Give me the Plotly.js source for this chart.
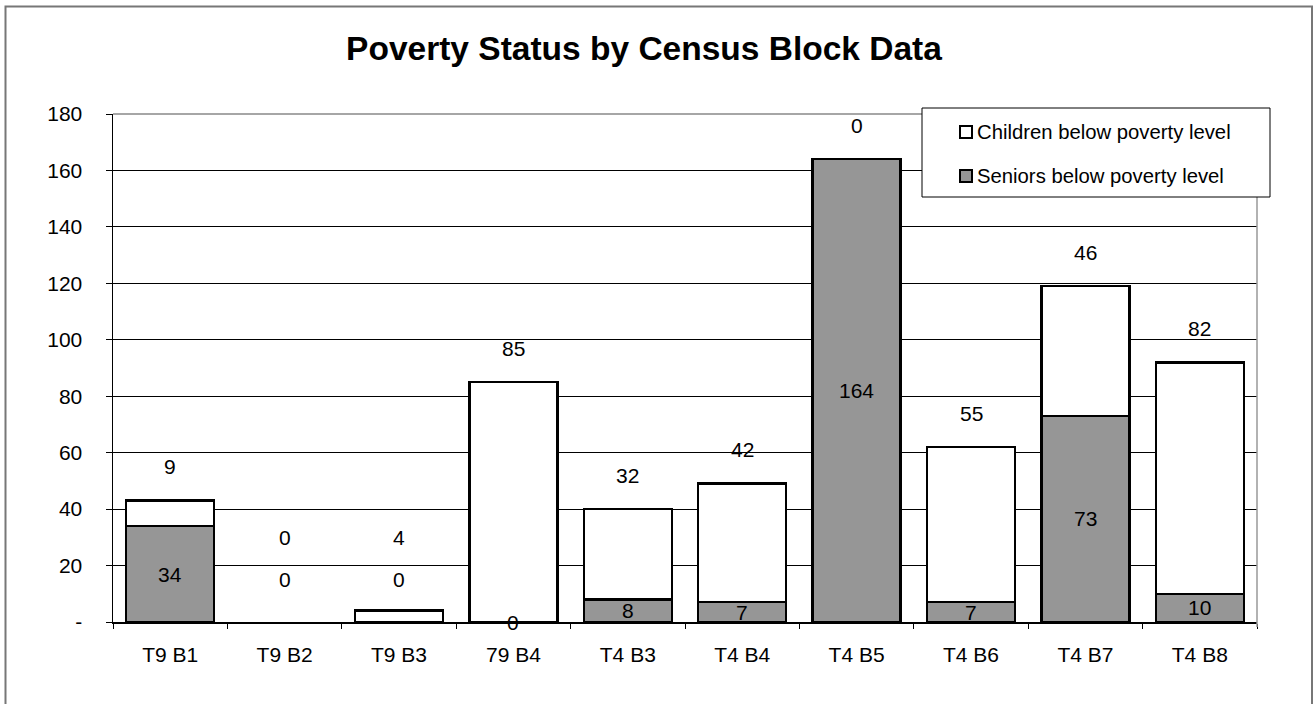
<!DOCTYPE html>
<html>
<head>
<meta charset="utf-8">
<script src="https://cdn.plot.ly/plotly-3.0.1.min.js"></script>
<style>html,body{margin:0;padding:0;background:#fff;}#chart{width:1313px;height:704px;}</style>
</head>
<body>
<div id="chart"></div>
<script>
// ---- data ----
const categories = ["T9 B1","T9 B2","T9 B3","79 B4","T4 B3","T4 B4","T4 B5","T4 B6","T4 B7","T4 B8"];
const seniors = [34, 0, 0, 0, 8, 7, 164, 7, 73, 10];
const children = [9, 0, 4, 85, 32, 42, 0, 55, 46, 82];
const seriesNames = ["Children below poverty level", "Seniors below poverty level"];
const yTickVals = [0,20,40,60,80,100,120,140,160,180];
const yTickText = ["-","20","40","60","80","100","120","140","160","180"];

// ---- layout geometry (pixels) ----
const W = 1313, H = 704;
const M = {l:113, r:56, t:114, b:82};
const PW = W - M.l - M.r, PH = H - M.t - M.b;
const px = x => (x - M.l) / PW;
const py = y => (H - M.b - y) / PH;
const FONT = "Liberation Sans, Arial, sans-serif";
const FS = 21;
const GRAY = "rgb(150,150,150)";
const noZero = arr => arr.map(v => v === 0 ? null : v);

const traces = [
  {type:"bar", name:seriesNames[1], x:categories, y:noZero(seniors),
   marker:{color:GRAY, line:{color:"#000", width:2.5}}, showlegend:false, hoverinfo:"x+y"},
  {type:"bar", name:seriesNames[0], x:categories, y:noZero(children),
   marker:{color:"#fff", line:{color:"#000", width:2.5}}, showlegend:false, hoverinfo:"x+y"}
];

const annotations = [];
categories.forEach((c, i) => {
  const total = seniors[i] + children[i];
  const cy = Math.max(total + 12, 30);
  const sy = total < 10 ? 15 : seniors[i] / 2;
  annotations.push({x:c, y:cy, xref:"x", yref:"y", text:String(children[i]), showarrow:false,
    font:{family:FONT, size:FS, color:"#000"}, xanchor:"center", yanchor:"middle"});
  annotations.push({x:c, y:sy, xref:"x", yref:"y", text:String(seniors[i]), showarrow:false,
    font:{family:FONT, size:FS, color:"#000"}, xanchor:"center", yanchor:"middle"});
});

// manual legend
const legRows = [{name:seriesNames[0], fill:"#fff", cy:132}, {name:seriesNames[1], fill:GRAY, cy:176}];
const shapes = [
  {type:"rect", xref:"paper", yref:"paper", x0:px(5.5), x1:px(1312), y0:py(6.5), y1:py(720),
   line:{color:"#777", width:2}, fillcolor:"rgba(0,0,0,0)", layer:"below"},
  {type:"line", xref:"paper", yref:"paper", x0:0, x1:1, y0:1, y1:1, line:{color:"#888", width:1.5}, layer:"above"},
  {type:"line", xref:"paper", yref:"paper", x0:1, x1:1, y0:py(627), y1:1, line:{color:"#999", width:1.5}, layer:"above"},
  {type:"rect", xref:"paper", yref:"paper", x0:px(922), x1:px(1270), y0:py(197), y1:py(108),
   line:{color:"#000", width:1}, fillcolor:"#fff", layer:"above"}
];
legRows.forEach(r => {
  shapes.push({type:"rect", xref:"paper", yref:"paper", x0:px(960), x1:px(972), y0:py(r.cy+6), y1:py(r.cy-6),
    line:{color:"#000", width:2}, fillcolor:r.fill, layer:"above"});
  annotations.push({xref:"paper", yref:"paper", x:px(975), y:py(r.cy), text:r.name, showarrow:false,
    xanchor:"left", yanchor:"middle", font:{family:FONT, size:20.3, color:"#000"}});
});

const layout = {
  width:W, height:H,
  margin:M,
  paper_bgcolor:"#fff", plot_bgcolor:"#fff",
  font:{family:FONT, size:FS, color:"#000"},
  title:{text:"<b>Poverty Status by Census Block Data</b>", x:644/W, xref:"container", xanchor:"center",
         y:1-48/H, yref:"container", yanchor:"middle", font:{family:FONT, size:33.5, color:"#000"}},
  barmode:"stack", bargap:0.23,
  showlegend:false,
  xaxis:{type:"category", showgrid:false, showline:true, linecolor:"#000", linewidth:1.5,
         ticks:"outside", tickson:"boundaries", ticklen:5, tickcolor:"#000", tickwidth:1,
         ticklabelstandoff:13, tickfont:{family:FONT, size:FS, color:"#000"}, zeroline:false, fixedrange:true},
  yaxis:{range:[0,180], tickvals:yTickVals, ticktext:yTickText, showgrid:true, gridcolor:"#000", gridwidth:1,
         showline:true, linecolor:"#000", linewidth:1.5, ticks:"outside", ticklen:6, tickcolor:"#000",
         ticklabelstandoff:19, tickfont:{family:FONT, size:FS, color:"#000"}, zeroline:false, fixedrange:true},
  shapes:shapes,
  annotations:annotations
};

Plotly.newPlot("chart", traces, layout, {displayModeBar:false, staticPlot:true});
</script>
</body>
</html>
